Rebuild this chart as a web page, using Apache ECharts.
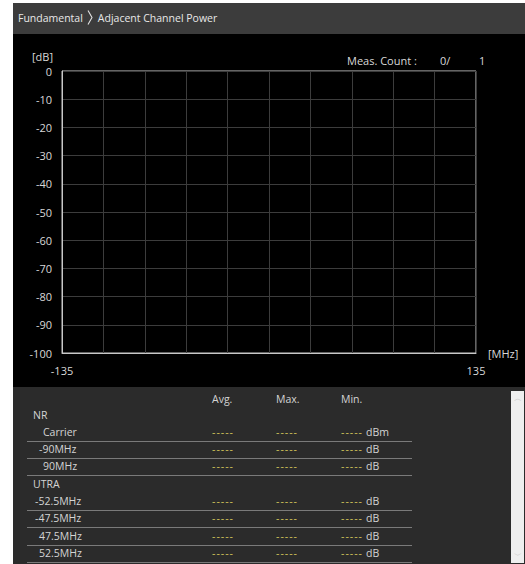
<!DOCTYPE html>
<html>
<head>
<meta charset="utf-8">
<script src="https://cdn.jsdelivr.net/npm/echarts@6/dist/echarts.min.js"></script>
<style>
  html, body { margin: 0; padding: 0; background: #fff; width: 525px; height: 564px; overflow: hidden; }
  body { font-family: "Open Sans", "Noto Sans", sans-serif; }
  #panel { position: absolute; left: 13px; top: 3px; width: 512px; height: 561px; background: #000; }
  #header { position: absolute; left: 0; top: 0; width: 512px; height: 31px; background: #3c3c3c; color: #e8e8e8; font-size: 10.5px; line-height: 31px; padding-left: 5px; box-sizing: border-box; }
  #header svg { position: relative; top: 3px; margin: 0 5px 0 4px; }
  #chart { position: absolute; left: 0; top: 31px; width: 512px; height: 353px; }
  #table { position: absolute; left: 0; top: 384px; width: 512px; height: 177px; background: #2b2b2b; color: #d4d4d4; font-size: 10.5px; }
  .row { position: absolute; left: 14px; width: 385px; height: 17px; line-height: 17px; }
  .row.line { border-bottom: 1.5px solid #7a7a7a; }
  .lab { position: absolute; top: 0; }
  .dash { position: absolute; top: 0; color: #d4c55a; letter-spacing: 1px; }
  .unit { position: absolute; top: 0; color: #d4d4d4; }
  #scroll { position: absolute; left: 498px; top: 4px; width: 13px; height: 172px; background: #efefef; }
  #scroll span { position: absolute; left: 0; width: 13px; text-align: center; color: #c8c8c8; font-size: 8px; }
</style>
</head>
<body>
<div id="panel">
  <div id="header">Fundamental<svg width="6" height="15" viewBox="0 0 6 15"><polyline points="1,0.5 5,7.5 1,14.5" fill="none" stroke="#e0e0e0" stroke-width="1.1"/></svg>Adjacent Channel Power</div>
  <div id="chart"></div>
  <div id="table"></div>
</div>
<script>
// axis ranges
const xMin = -135
const xMax = 135
const xStep = 27
const yMin = -100
const yMax = 0
const yStep = 10

const measCount = '0/'
const measTotal = '1'

// table contents
const columns = ['Avg.', 'Max.', 'Min.']
const groups = ['NR', 'UTRA']
const nrRows = ['Carrier', '-90MHz', '90MHz']
const nrUnits = ['dBm', 'dB', 'dB']
const utraRows = ['-52.5MHz', '-47.5MHz', '47.5MHz', '52.5MHz']
const utraUnits = ['dB', 'dB', 'dB', 'dB']
const emptyValue = '-----'

// ---- table (html) ----
const table = document.getElementById('table')
const colX = [199, 263, 328] // relative to panel
let html = ''
columns.forEach((c, i) => {
  html += `<div class="lab" style="left:${colX[i]}px;top:4px;line-height:17px">${c}</div>`
})
let y = 19.5
const addGroup = (name, rows, units, base) => {
  html += `<div class="row" style="top:${Math.round(y)}px"><span class="lab" style="left:6px">${name}</span></div>`
  y += 17.3
  rows.forEach((r, i) => {
    // labels with a leading minus sit a little further left
    const lx = base - (r[0] === '-' ? 4 : 0)
    html += `<div class="row line" style="top:${Math.round(y)}px">` +
      `<span class="lab" style="left:${lx}px">${r}</span>` +
      `<span class="dash" style="left:${colX[0] - 14}px">${emptyValue}</span>` +
      `<span class="dash" style="left:${colX[1] - 14}px">${emptyValue}</span>` +
      `<span class="dash" style="left:${colX[2] - 14}px">${emptyValue}</span>` +
      `<span class="unit" style="left:${colX[2] + 11}px">${units[i]}</span></div>`
    y += 17.3
  })
}
addGroup(groups[0], nrRows, nrUnits, 16)
addGroup(groups[1], utraRows, utraUnits, 12)
html += '<div id="scroll"><span style="top:1px">︿</span><span style="bottom:2px">﹀</span></div>'
table.innerHTML = html

// ---- chart ----
const chart = echarts.init(document.getElementById('chart'), null, { renderer: 'svg' })

const option = {
  backgroundColor: '#000',
  animation: false,
  textStyle: { fontFamily: 'Open Sans' },
  grid: {
    left: 49,
    top: 37,
    right: 49,
    bottom: 34,
    show: true,
    borderColor: '#c8c8c8',
    borderWidth: 1
  },
  graphic: [
    { type: 'text', left: 334, top: 21, style: { text: 'Meas. Count :', fill: '#d8d8d8', fontSize: 11, fontFamily: 'Open Sans' } },
    { type: 'text', left: 427, top: 21, style: { text: measCount, fill: '#d8d8d8', fontSize: 11, fontFamily: 'Open Sans' } },
    { type: 'text', left: 466, top: 21, style: { text: measTotal, fill: '#d8d8d8', fontSize: 11, fontFamily: 'Open Sans' } }
  ],
  xAxis: {
    type: 'value',
    min: xMin,
    max: xMax,
    interval: xStep,
    name: '[MHz]',
    nameLocation: 'end',
    nameGap: 12,
    nameTextStyle: { color: '#d8d8d8', fontSize: 11, padding: [4, 0, 0, 0] },
    axisLine: { show: true, onZero: false, lineStyle: { color: '#c8c8c8', width: 1 } },
    axisTick: { show: false },
    splitLine: { show: true, lineStyle: { color: '#3c3c3c', width: 1 } },
    axisLabel: {
      color: '#d8d8d8',
      fontSize: 11,
      margin: 12,
      showMinLabel: true,
      showMaxLabel: true,
      formatter: v => (v === xMin || v === xMax ? String(v) : '')
    }
  },
  yAxis: {
    type: 'value',
    min: yMin,
    max: yMax,
    interval: yStep,
    name: '[dB]',
    nameLocation: 'end',
    nameGap: 9,
    nameTextStyle: { color: '#d8d8d8', fontSize: 11, align: 'right', padding: [0, 9, 0, 0] },
    axisLine: { show: true, onZero: false, lineStyle: { color: '#c8c8c8', width: 1 } },
    axisTick: { show: false },
    splitLine: { show: true, lineStyle: { color: '#3c3c3c', width: 1 } },
    axisLabel: { color: '#d8d8d8', fontSize: 11, margin: 10 }
  },
  series: [
    { type: 'line', data: [], showSymbol: false }
  ]
}

chart.setOption(option)
</script>
</body>
</html>
